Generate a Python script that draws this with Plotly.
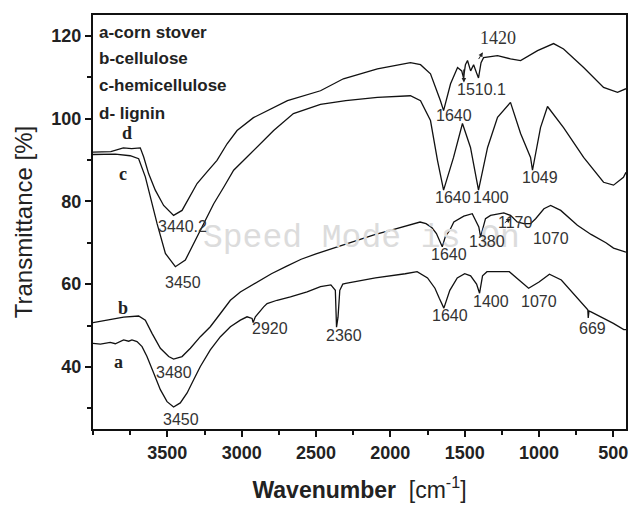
import plotly.graph_objects as go

# ---------------- data ----------------
wn_a = [4000, 3950, 3884, 3850, 3794, 3760, 3738, 3704, 3670, 3637, 3592, 3547, 3502, 3458,
        3413, 3367, 3323, 3278, 3211, 3143, 3076, 3009, 2964, 2930, 2923, 2908, 2852, 2829,
        2762, 2672, 2560, 2470, 2400, 2370, 2362, 2352, 2340, 2320, 2300, 2100, 1900, 1820,
        1750, 1700, 1670, 1640, 1600, 1550, 1500, 1460, 1420, 1400, 1380, 1350, 1200, 1150,
        1070, 1000, 930, 850, 750, 690, 672, 669, 664, 650, 550, 500, 430, 415]
t_a = [45.7, 45.5, 45.9, 45.6, 46.5, 46.2, 46.5, 46.1, 44.9, 42.5, 38.5, 34.5, 31.6, 30.3,
       31.3, 33.7, 36.9, 40.1, 44.1, 47.3, 49.7, 51.3, 52.1, 51.7, 50.7, 52.1, 54.5, 55.3,
       56.1, 56.9, 58.1, 59.4, 59.8, 58.5, 49.6, 52.0, 58.5, 60.0, 60.2, 61.5, 62.5, 63.0,
       61.5, 59.0, 56.5, 54.2, 58.5, 61.5, 62.5, 62.0, 60.0, 57.8, 62.0, 63.0, 63.0, 61.5,
       59.0, 60.5, 62.4, 61.0, 57.0, 54.5, 53.8, 51.8, 53.5, 53.3, 51.5, 50.5, 49.0, 49.0]

wn_b = [4000, 3884, 3794, 3693, 3648, 3603, 3547, 3491, 3458, 3401, 3345, 3278, 3211, 3143,
        3076, 3009, 2900, 2800, 2700, 2600, 2500, 2400, 2300, 2200, 2100, 2000, 1900, 1800,
        1760, 1720, 1690, 1651, 1630, 1600, 1573, 1506, 1449, 1405, 1393, 1375, 1360, 1326,
        1237, 1192, 1147, 1102, 1057, 1023, 967, 922, 854, 742, 650, 550, 499, 415]
t_b = [50.7, 51.5, 52.0, 52.3, 51.3, 48.1, 44.5, 42.5, 41.9, 42.5, 44.5, 47.3, 49.7, 52.9,
       56.1, 58.1, 60.5, 62.5, 64.3, 66.0, 67.3, 68.5, 69.7, 70.8, 72.0, 73.0, 74.0, 75.0,
       74.6, 73.6, 72.2, 69.0, 71.5, 73.0, 75.0, 76.4, 77.0, 73.8, 71.4, 74.0, 75.8, 76.6,
       77.2, 76.6, 75.0, 74.6, 74.6, 75.8, 78.2, 79.0, 77.8, 74.2, 72.0, 70.0, 68.7, 67.7]

wn_c = [4000, 3850, 3750, 3693, 3648, 3614, 3569, 3513, 3446, 3379, 3323, 3256, 3188, 3121,
        3054, 2964, 2874, 2785, 2652, 2470, 2300, 2087, 1865, 1797, 1730, 1683, 1642, 1575,
        1515, 1461, 1407, 1346, 1279, 1192, 1124, 1057, 1044, 990, 943, 835, 700, 566, 499,
        432, 415]
t_c = [91.3, 91.4, 91.0, 90.3, 85.9, 81.0, 74.6, 67.4, 64.2, 65.8, 69.8, 74.6, 79.4, 83.4,
       87.5, 90.7, 93.9, 97.1, 101.2, 103.4, 104.3, 105.1, 105.5, 104.3, 99.5, 89.9, 82.7, 90.6,
       98.8, 93.0, 82.7, 93.0, 100.3, 103.9, 96.4, 90.6, 87.5, 97.8, 102.9, 97.8, 90.6, 84.6, 83.9,
       85.8, 87.0]

wn_d = [4000, 3880, 3796, 3740, 3682, 3659, 3626, 3581, 3525, 3458, 3401, 3345, 3300, 3233,
        3166, 3098, 3031, 2921, 2827, 2692, 2470, 2316, 2087, 1865, 1797, 1730, 1663, 1642,
        1595, 1548, 1520, 1508, 1495, 1481, 1460, 1440, 1420, 1407, 1390, 1373, 1279, 1192,
        1124, 1010, 902, 835, 700, 566, 472, 415]
t_d = [91.9, 92.0, 92.9, 92.7, 92.9, 90.7, 86.7, 82.7, 79.0, 76.6, 77.8, 81.4, 84.3, 87.1,
       89.9, 93.9, 97.1, 100.2, 101.9, 104.3, 106.7, 109.6, 112.0, 113.5, 113.0, 110.8, 104.3, 101.9,
       108.4, 112.3, 111.5, 109.8, 113.0, 114.0, 111.5, 113.0, 111.0, 109.8, 113.5, 114.7, 115.2, 114.4,
       114.0, 116.4, 118.1, 116.8, 112.3, 107.5, 106.3, 107.2]

legend_lines = ["a-corn stover", "b-cellulose", "c-hemicellulose", "d- lignin"]
legend_y = [120.7, 114.5, 107.9, 101.3]

curve_tags = ["a", "b", "c", "d"]
tag_wn = [3830, 3796, 3796, 3769]
tag_t = [41.2, 54.2, 86.7, 96.4]

peak_text = ["3450", "3480", "3450", "3440.2", "2920", "2360", "1640", "1400", "1070", "669",
             "1640", "1380", "1170", "1070", "1640", "1400", "1049", "1640", "1510.1"]
peak_wn = [3406, 3453, 3392, 3400, 2807, 2309, 1602, 1326, 1003, 640,
           1608, 1348, 1160, 922, 1582, 1326, 996, 1575, 1387]
peak_t = [27.2, 38.6, 60.5, 74.0, 49.2, 47.5, 52.5, 55.7, 55.9, 49.2,
          67.2, 70.3, 74.9, 71.1, 81.0, 81.0, 85.8, 100.7, 107.0]

x_ticks = [3500, 3000, 2500, 2000, 1500, 1000, 500]
y_ticks = [40, 60, 80, 100, 120]

# ---------------- figure ----------------
fig = go.Figure()
for wn, t in [(wn_a, t_a), (wn_b, t_b), (wn_c, t_c), (wn_d, t_d)]:
    fig.add_trace(go.Scatter(x=wn, y=t, mode="lines",
                             line=dict(color="#111111", width=1.3),
                             showlegend=False, hoverinfo="skip"))

# watermark
fig.add_annotation(x=2194, y=71.1, text="Speed Mode is On", showarrow=False,
                   font=dict(family="Liberation Mono, Courier New, monospace", size=33,
                             color="#dcdcdc"))

for txt, yy in zip(legend_lines, legend_y):
    fig.add_annotation(x=3975, y=yy, text=txt, showarrow=False, xanchor="left",
                       font=dict(family="Arial, Liberation Sans", size=17, color="#222222",
                                 weight="bold"))

for txt, xx, yy in zip(curve_tags, tag_wn, tag_t):
    fig.add_annotation(x=xx, y=yy, text=txt, showarrow=False,
                       font=dict(family="Liberation Serif, Times New Roman, serif", size=18,
                                 color="#222222", weight="bold"))

for txt, xx, yy in zip(peak_text, peak_wn, peak_t):
    fig.add_annotation(x=xx, y=yy, text=txt, showarrow=False,
                       font=dict(family="Arial, Liberation Sans", size=16, color="#333333"))

fig.add_annotation(x=1279, y=119.5, text="1420", showarrow=False,
                   font=dict(family="Liberation Serif, Times New Roman, serif", size=18,
                             color="#333333"))

# small arrows
for (hx, hy, tx, ty) in [(1505, 108.7, 1507, 112.2), (1378, 116.0, 1412, 114.0),
                         (1190, 75.8, 1240, 74.6)]:
    fig.add_annotation(x=hx, y=hy, ax=tx, ay=ty, axref="x", ayref="y", text="",
                       showarrow=True, arrowhead=2, arrowsize=0.9, arrowwidth=1,
                       arrowcolor="#222222")

axis_common = dict(showline=True, linecolor="#111111", linewidth=2, mirror=True,
                   ticks="outside", tickcolor="#111111", tickwidth=2, ticklen=6,
                   showgrid=False, zeroline=False,
                   tickfont=dict(family="Arial, Liberation Sans", size=18, color="#222222",
                                 weight="bold"))

fig.update_xaxes(range=[4000, 415], tickvals=x_ticks,
                 minor=dict(dtick=250, tick0=0, ticks="outside", ticklen=4, tickwidth=1.5,
                            tickcolor="#111111", showgrid=False),
                 title=dict(text="<b>Wavenumber</b>  [cm<sup>-1</sup>]",
                            font=dict(family="Arial, Liberation Sans", size=23, color="#222222"),
                            standoff=20),
                 **axis_common)
fig.update_yaxes(range=[25, 125], tickvals=y_ticks,
                 minor=dict(dtick=10, tick0=0, ticks="outside", ticklen=4, tickwidth=1.5,
                            tickcolor="#111111", showgrid=False),
                 title=dict(text="Transmittance [%]",
                            font=dict(family="Arial, Liberation Sans", size=24, color="#222222"),
                            standoff=12),
                 **axis_common)

fig.update_layout(width=632, height=513, plot_bgcolor="white", paper_bgcolor="white",
                  margin=dict(l=93, r=6, t=15, b=84, autoexpand=False), showlegend=False)

# remove the default page margin so the figure sits exactly in the 632x513 window
page_fix = ("document.body.style.margin='0';document.body.style.padding='0';"
            "document.body.style.overflow='hidden';"
            "document.documentElement.style.overflow='hidden';")

fig.write_html("out.html", post_script=page_fix, config={"displayModeBar": False})
